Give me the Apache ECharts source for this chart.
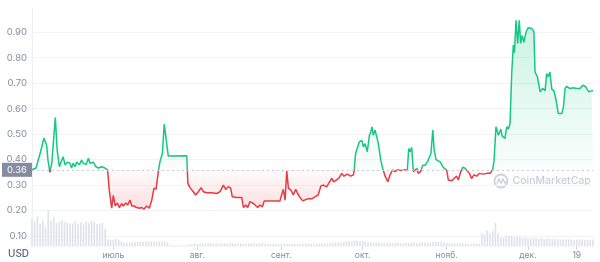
<!DOCTYPE html>
<html>
<head>
<meta charset="utf-8">
<script src="https://cdn.jsdelivr.net/npm/echarts@6/dist/echarts.min.js"></script>
<style>html,body{margin:0;padding:0;background:#fff}#c{width:600px;height:262px}</style>
</head>
<body>
<div id="c"></div>
<script>
// Day offsets from 1 June (0) to 25 December (207)
const priceDays = [0,0.7,1.5,2.2,3.0,3.6,4.4,5.4,5.9,6.6,7.3,7.7,8.6,9.3,10.1,11.0,11.5,12.2,13.0,14.0,14.6,15.2,15.9,16.5,17.5,18.3,18.9,19.9,20.8,21.4,22.6,23.6,24.5,25.7,26.9,27.9,28.5,29.4,30.0,30.7,31.5,32.2,33.1,33.7,34.6,35.3,36.2,36.8,37.6,38.6,39.6,40.5,41.3,42.3,43.3,44.2,45.0,45.8,46.6,47.2,48.1,48.8,49.7,50.3,57.1,
57.5,58.3,58.9,59.5,60.4,61.4,62.4,63.2,64.5,66.3,68.2,69.4,70.6,71.5,72.4,73.3,73.9,75.5,77.4,78.0,78.9,79.6,80.4,81.3,82.3,83.3,84.1,85.0,85.7,91.5,92.1,92.7,93.4,94.0,94.6,95.6,96.4,97.3,98.0,98.9,99.9,101.0,102.0,103.2,104.4,105.6,106.6,107.5,
108.7,110.6,111.4,112.4,113.4,114.3,115.1,116.3,117.6,118.6,118.9,119.4,120.0,120.8,121.7,122.3,122.9,123.7,124.5,125.0,125.5,125.9,126.6,127.2,127.8,128.7,129.4,130.3,131.3,132.1,133.1,133.9,134.8,135.5,136.4,137.6,138.5,139.0,139.5,140.1,140.7,141.3,142.0,142.5,143.4,144.2,145.0,145.9,146.6,147.2,147.9,148.4,149.1,149.6,150.6,151.8,153.0,153.6,154.9,155.7,156.7,157.3,158.2,158.9,159.8,160.4,161.4,162.2,163.1,164.1,165.0,166.5,167.8,169.0,
170.0,170.5,171.2,172.1,173.0,173.5,174.5,175.2,175.8,176.4,177.0,177.6,178.0,178.6,179.2,179.8,180.3,180.9,181.5,182.3,183.1,184.4,185.2,185.6,186.5,187.5,188.4,189.3,189.9,190.5,191.1,191.8,192.6,193.4,194.2,195.5,196.1,196.7,197.3,198.5,199.7,201.0,202.2,203.2,204.1,204.7,205.5,206.5,207.0];
const prices = [0.36,0.362,0.367,0.37,0.425,0.42,0.484,0.457,0.398,0.35,0.386,0.39,0.565,0.437,0.372,0.398,0.411,0.38,0.39,0.386,0.367,0.386,0.372,0.39,0.38,0.398,0.386,0.38,0.405,0.386,0.39,0.372,0.367,0.372,0.367,0.36,0.28,0.209,0.26,0.218,0.23,0.212,0.227,0.218,0.23,0.222,0.241,0.218,0.218,0.212,0.209,0.212,0.205,0.218,0.209,0.241,0.288,0.284,0.352,0.391,0.424,0.539,0.463,0.414,0.415,
0.307,0.29,0.296,0.274,0.261,0.274,0.29,0.274,0.27,0.27,0.267,0.274,0.30,0.283,0.294,0.288,0.254,0.251,0.251,0.212,0.222,0.212,0.235,0.23,0.222,0.212,0.222,0.214,0.238,0.238,0.261,0.283,0.241,0.355,0.288,0.279,0.261,0.283,0.267,0.251,0.238,0.243,0.246,0.246,0.254,0.261,0.297,0.30,
0.293,0.326,0.313,0.32,0.33,0.346,0.335,0.343,0.335,0.34,0.36,0.424,0.431,0.47,0.476,0.45,0.463,0.431,0.496,0.509,0.529,0.496,0.516,0.49,0.463,0.398,0.366,0.335,0.313,0.34,0.36,0.353,0.36,0.366,0.357,0.36,0.36,0.444,0.431,0.448,0.353,0.346,0.366,0.346,0.353,0.378,0.378,0.391,0.388,0.424,0.516,0.436,0.40,0.403,0.391,0.369,0.36,0.32,0.317,0.326,0.335,0.32,0.353,0.37,0.366,0.36,0.346,0.326,0.34,0.335,0.346,0.343,0.346,0.346,
0.36,0.398,0.529,0.496,0.52,0.492,0.483,0.529,0.52,0.542,0.738,0.85,0.82,0.947,0.856,0.947,0.856,0.888,0.86,0.901,0.918,0.915,0.902,0.744,0.725,0.666,0.68,0.67,0.738,0.725,0.744,0.677,0.67,0.633,0.581,0.581,0.607,0.679,0.688,0.679,0.682,0.679,0.679,0.692,0.688,0.679,0.666,0.67,0.67];
// Daily volume (relative units), one per day 0..207
const volumes = [70,62,74,56,64,48,90,64,72,58,60,64,60,58,56,57,62,55,60,54,62,58,63,60,55,57,58,44,
18,16,17,19,16,12, 9,10,9,10, 11,12,12,11,13,12,12,13,11,12,13,12,10, 4,3,3,3,3,3,4,
5,6,7,6,7,8,7,7,8,7, 8,7,7,8,7,8,8,7,7,8, 7,7,8,9,8,7,7,8,7,7, 6,7,7,6,7,7,6,6,7,6, 7,7,6,6,7,6,6,7,7,8, 7,7,8,9,10,9,10,11,
13,14,13,15,14,13,14,12,11,
10,9,10,9,9,8,9,9,8,9, 9,8,8,9,8,9,9,8,9,10, 10,9,10,11,12,11,12,10,9,8, 8,7,7,8,7,7,7,6,7,7,7,
33,30,40,32,38,58,33,23,22,28, 26,27,22,25,23,21,22,21,20,22, 21,19,20,18,20,19,18,19,18,17, 18,17,18,17,16,17,18,17,16,17,16,17];
const tickDays = [30, 61, 92, 122, 153, 183, 201];
const tickLabels = ['июль', 'авг.', 'сент.', 'окт.', 'нояб.', 'дек.', '19'];
const basePrice = 0.36;
const yTicks = ['0.10','0.20','0.30','0.40','0.50','0.60','0.70','0.80','0.90'];

const GREEN = '#16c784', RED = '#ea3943';
const splitColors = ['rgba(0,0,0,0)'];
for (let i = 0; i < 9; i++) splitColors.push('#f1f3f6');
splitColors.push('rgba(0,0,0,0)');

const areaGrad = new echarts.graphic.LinearGradient(0, 20, 0, 215, [
  {offset: 0, color: 'rgba(22,199,132,0.32)'},
  {offset: 0.769, color: 'rgba(22,199,132,0.03)'},
  {offset: 0.771, color: 'rgba(234,57,67,0.03)'},
  {offset: 1, color: 'rgba(234,57,67,0.26)'}
], true);

const chart = echarts.init(document.getElementById('c'), null, {renderer: 'canvas'});
chart.setOption({
  animation: false,
  textStyle: {fontFamily: 'Inter'},
  grid: [
    {left: 32, right: 7, top: 6.8, bottom: 0.5},
    {left: 32, right: 7, top: 206, bottom: 15.5}
  ],
  xAxis: [
    {gridIndex: 0, type: 'value', min: 0, max: 207, show: false},
    {gridIndex: 1, type: 'value', min: 0, max: 207,
      axisLine: {show: false}, splitLine: {show: false},
      axisTick: {show: true, customValues: tickDays, length: 3, lineStyle: {color: '#c9cdd6'}},
      axisLabel: {customValues: tickDays, margin: 4, fontSize: 8.5, color: '#858ca2',
        formatter: v => { const i = tickDays.indexOf(Math.round(v)); return i >= 0 ? tickLabels[i] : ''; }}
    }
  ],
  yAxis: [
    {gridIndex: 0, type: 'value', min: 0, max: 1.0, interval: 0.1,
      axisLine: {show: false}, axisTick: {show: false},
      splitLine: {show: true, lineStyle: {color: splitColors, width: 1}},
      axisLabel: {fontSize: 9.5, color: '#858ca2', margin: 5,
        formatter: v => { const s = v.toFixed(2); return yTicks.indexOf(s) >= 0 ? s : ''; }}
    },
    {gridIndex: 1, type: 'value', min: 0, max: 100, show: false}
  ],
  visualMap: {
    show: false, type: 'piecewise', seriesIndex: 1, dimension: 1,
    pieces: [{gt: -10, lt: basePrice, color: RED}, {gte: basePrice, lte: 10, color: GREEN}]
  },
  graphic: [
    {type: 'line', shape: {x1: 32.5, y1: 8, x2: 32.5, y2: 246}, style: {stroke: '#eef0f3', lineWidth: 1}, z: 0},
    {type: 'text', left: 8, top: 249, style: {text: 'USD', fontSize: 10, fontWeight: 500, fill: '#58667e', fontFamily: 'Inter'}},
    {type: 'group', left: 492, top: 172, z: 1, children: [
      {type: 'circle', shape: {cx: 7.5, cy: 7.5, r: 6.5}, style: {fill: 'none', stroke: '#cdd2dc', lineWidth: 1.8}},
      {type: 'polyline', shape: {points: [[3.5,10],[5.5,5.5],[7.5,9.5],[9.5,5.5],[11.5,9.5],[13,8]]}, style: {fill: 'none', stroke: '#cdd2dc', lineWidth: 1.6}},
      {type: 'text', x: 19, y: 1.5, style: {text: 'CoinMarketCap', fontSize: 10.5, fontWeight: 500, fill: '#c8cdd7', fontFamily: 'Inter'}}
    ]}
  ],
  series: [
    {type: 'bar', xAxisIndex: 1, yAxisIndex: 1, barWidth: 1.6, itemStyle: {color: '#dfe2ea'},
      data: volumes.map((v, i) => [i, v])},
    {type: 'line', xAxisIndex: 0, yAxisIndex: 0, showSymbol: false, symbol: 'none',
      lineStyle: {width: 1.5}, z: 3,
      areaStyle: {origin: basePrice, color: areaGrad},
      markLine: {symbol: 'none', silent: true, animation: false,
        lineStyle: {color: '#c7ccd6', type: [2, 3], width: 1},
        label: {position: 'start', distance: 0, formatter: basePrice.toFixed(2), color: '#fff',
          backgroundColor: '#858ca2', padding: [2, 5, 2, 5], fontSize: 9.5, fontFamily: 'Inter'},
        data: [{yAxis: basePrice}]},
      data: priceDays.map((d, i) => [d, prices[i]])}
  ]
});
</script>
</body>
</html>
